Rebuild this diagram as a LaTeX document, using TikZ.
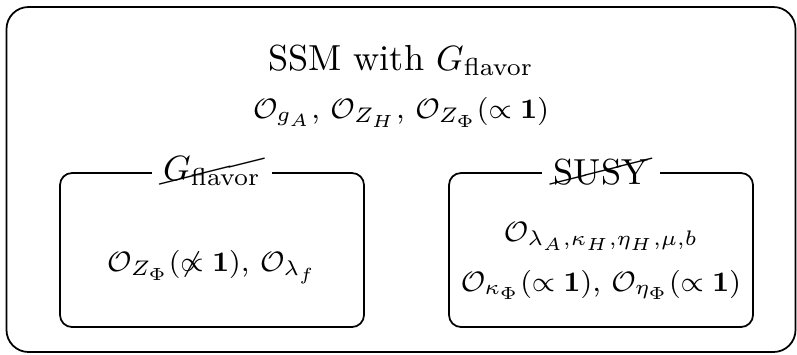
\documentclass[tikz,border=0pt]{standalone}
\usepackage{amsmath,amssymb}
\usepackage{cancel}
\usetikzlibrary{positioning}

\begin{document}
\begin{tikzpicture}[
  font=\fontsize{8.4}{10.1}\selectfont,
  frame/.style={draw, rounded corners=2.2mm, line width=0.5pt,
    minimum width=7.89cm, minimum height=3.45cm, inner sep=0pt},
  sub/.style={draw, rounded corners=1.2mm, line width=0.5pt,
    minimum width=3.04cm, minimum height=1.54cm, inner sep=0pt},
  head/.style={font=\fontsize{10.3}{12.4}\selectfont},
  tag/.style={head, fill=white, inner sep=3.2pt},
  txt/.style={anchor=base, inner sep=0pt}
]
\useasboundingbox (0,0) rectangle (7.97,3.54);
% outer model box
\node[frame] (ssm) at (4.01,1.745) {};
\node[txt, head] (title) at (4.01,2.84) {SSM with $G_{\mathrm{flavor}}$};
\node[txt] (common) at (4.01,2.36)
  {$\mathcal{O}_{g_A}$, $\mathcal{O}_{Z_H}$, $\mathcal{O}_{Z_\Phi}(\propto\mathbf{1})$};
% broken flavor symmetry
\node[sub] (flav) at (2.12,1.04) {};
\node[tag] (noflav) at (flav.north) {$\cancel{G_{\mathrm{flavor}}}$};
\node[txt] (flavops) at (2.12,0.83)
  {$\mathcal{O}_{Z_\Phi}(\not\propto\mathbf{1})$, $\mathcal{O}_{\lambda_f}$};
% broken supersymmetry
\node[sub] (susy) at (6.01,1.04) {};
\node[tag] (nosusy) at (susy.north) {\cancel{SUSY}};
\node[txt] (susyops) at (6.01,1.13)
  {$\mathcal{O}_{\lambda_A,\kappa_H,\eta_H,\mu,b}$};
\node[txt] (susyops2) at (6.01,0.63)
  {$\mathcal{O}_{\kappa_\Phi}(\propto\mathbf{1})$, $\mathcal{O}_{\eta_\Phi}(\propto\mathbf{1})$};
\end{tikzpicture}
\end{document}
